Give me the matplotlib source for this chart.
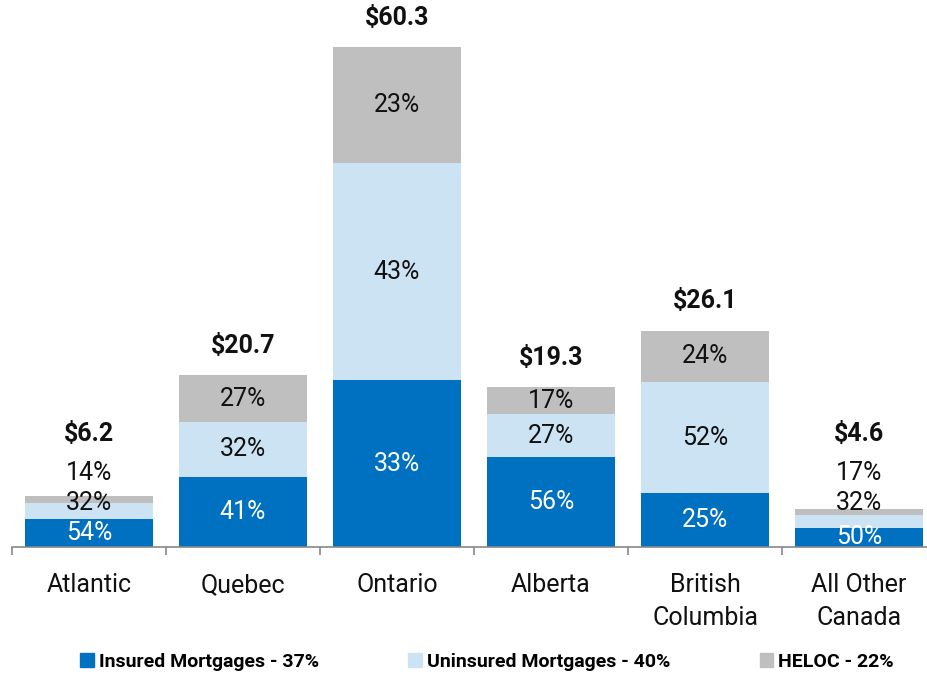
import matplotlib
matplotlib.use("Agg")
import matplotlib.pyplot as plt
import numpy as np
from matplotlib.patches import Patch

categories = ["Atlantic", "Quebec", "Ontario", "Alberta", "British\nColumbia", "All Other\nCanada"]
totals = [6.2, 20.7, 60.3, 19.3, 26.1, 4.6]
insured_pct = [54, 41, 33, 56, 25, 50]
uninsured_pct = [32, 32, 43, 27, 52, 32]
heloc_pct = [14, 27, 23, 17, 24, 17]
legend_labels = ["Insured Mortgages - 37%", "Uninsured Mortgages - 40%", "HELOC - 22%"]

c_ins = "#0070C0"
c_unins = "#CCE3F3"
c_heloc = "#BFBFBF"

FONT = ["Roboto", "DejaVu Sans"]
plt.rcParams["font.family"] = FONT

fig = plt.figure(figsize=(9.27, 6.75), dpi=100)
W, H = 927, 675
left_px, right_px = 12, 936
base_px, top_px = 547, 33
ax = fig.add_axes([left_px / W, (H - base_px) / H, (right_px - left_px) / W, (base_px - top_px) / H])

x = np.arange(len(categories))
totals_a = np.array(totals)
sum_pct = np.array(insured_pct) + np.array(uninsured_pct) + np.array(heloc_pct)
ins = totals_a * np.array(insured_pct) / sum_pct
unins = totals_a * np.array(uninsured_pct) / sum_pct
hel = totals_a - ins - unins

bw = 0.83
ax.bar(x, ins, bw, color=c_ins, zorder=2)
ax.bar(x, unins, bw, bottom=ins, color=c_unins, zorder=2)
ax.bar(x, hel, bw, bottom=ins + unins, color=c_heloc, zorder=2)

ymax = 60.3 * (base_px - top_px) / (547 - 47)
ax.set_xlim(-0.5, len(categories) - 0.5)
ax.set_ylim(0, ymax)

fs = 18
txt = "#111111"
small_base = max(t for t in totals if t < 10)
for i in range(len(categories)):
    small = totals[i] < 10
    ax.text(x[i], ins[i] / 2, f"{insured_pct[i]}%", ha="center", va="center",
            color="white", fontsize=fs, zorder=3)
    if small:
        ax.annotate(f"{uninsured_pct[i]}%", (x[i], small_base), xytext=(0, -5),
                    textcoords="offset points", ha="center", va="center", fontsize=fs, color=txt, zorder=3)
        ax.annotate(f"{heloc_pct[i]}%", (x[i], small_base), xytext=(0, 16),
                    textcoords="offset points", ha="center", va="center", fontsize=fs, color=txt, zorder=3)
        ax.annotate(f"${totals[i]:.1f}", (x[i], small_base), xytext=(0, 44),
                    textcoords="offset points", ha="center", va="center", fontsize=18,
                    fontweight="bold", color=txt)
    else:
        ax.text(x[i], ins[i] + unins[i] / 2, f"{uninsured_pct[i]}%", ha="center", va="center",
                fontsize=fs, color=txt, zorder=3)
        ax.text(x[i], ins[i] + unins[i] + hel[i] / 2, f"{heloc_pct[i]}%", ha="center", va="center",
                fontsize=fs, color=txt, zorder=3)
        ax.annotate(f"${totals[i]:.1f}", (x[i], totals[i]), xytext=(0, 21),
                    textcoords="offset points", ha="center", va="center", fontsize=18,
                    fontweight="bold", color=txt)

for s in ["top", "right", "left"]:
    ax.spines[s].set_visible(False)
ax.spines["bottom"].set_color("#888888")
ax.spines["bottom"].set_linewidth(1.2)
ax.set_yticks([])
ax.set_xticks(np.arange(-0.5, len(categories), 1.0))
ax.set_xticklabels([])
ax.tick_params(axis="x", length=6, width=1.2, color="#888888", direction="out")
for i, c in enumerate(categories):
    ax.annotate(c, (x[i], 0), xytext=(0, -19), textcoords="offset points", ha="center", va="top",
                fontsize=fs, color=txt, annotation_clip=False, linespacing=1.45)

handles = [Patch(color=c_ins), Patch(color=c_unins), Patch(color=c_heloc)]
leg = fig.legend(handles, legend_labels, loc="center", bbox_to_anchor=(487 / W, 1 - 662 / H),
                 ncol=3, frameon=False, handlelength=0.7, handleheight=0.7, handletextpad=0.25,
                 columnspacing=4.6, prop={"family": FONT, "weight": "bold", "size": 14})

fig.savefig("out.png", dpi=100, facecolor="white")
